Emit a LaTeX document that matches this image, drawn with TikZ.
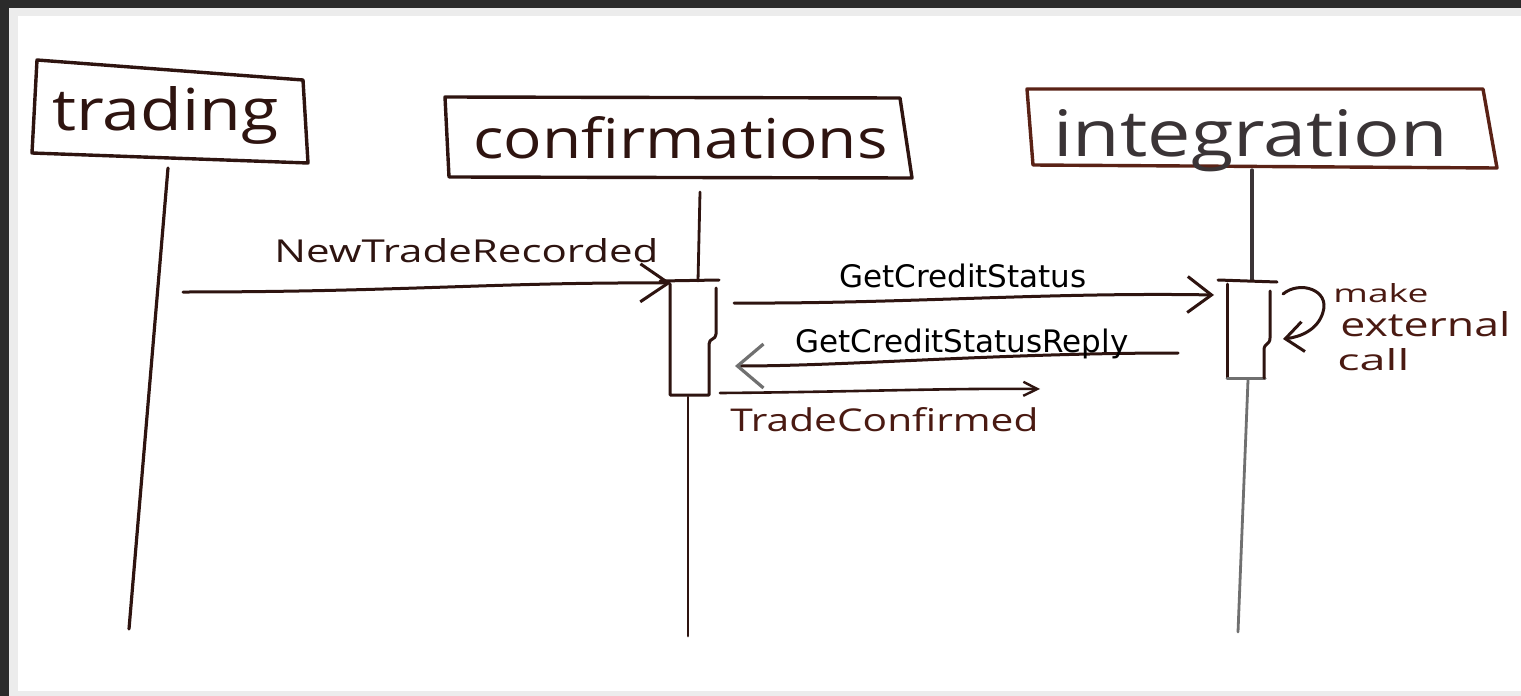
\documentclass[tikz,border=0pt]{standalone}
\usepackage{fontspec}
\usepackage{graphicx}
\usetikzlibrary{arrows.meta}

\newfontfamily\handfont{Open Sans}
\newfontfamily\typefont{DejaVu Sans}

% one drawing unit = half a point
\newdimen\px \px=0.5pt

\definecolor{frameDark}{HTML}{2B2B2B}
\definecolor{frameLight}{HTML}{ECECEC}
\definecolor{ink}{HTML}{2E1410}
\definecolor{redink}{HTML}{4A1A12}
\definecolor{boxred}{HTML}{5A2216}
\definecolor{graphite}{HTML}{3A3436}
\definecolor{pencil}{HTML}{707070}

% hand-lettered text squeezed into a given width and height
\newcommand\handword[3]{\resizebox{#1\px}{#2\px}{\handfont #3}}

\tikzset{
  sketch/.style={draw=ink, line width=1.5pt, line cap=round, line join=round},
  headbox/.style={sketch, line width=1.7pt},
  lifeline/.style={draw=ink, line width=1.4pt, line cap=round},
  handlabel/.style={anchor=base west, inner sep=0pt, text=ink},
  typelabel/.style={anchor=base west, inner sep=0pt, text=black,
    font=\typefont\fontsize{15.5pt}{18pt}\selectfont},
  msg/.style={sketch, -{Straight Barb[length=12pt,width=18pt,line width=1.5pt]}},
}

\begin{document}
\begin{tikzpicture}[x=0.5pt, y=-0.5pt]
% page frame
\fill[frameDark] (0,0) rectangle (1521,696);
\fill[frameLight] (9,8) rectangle (1521,696);
\fill[white] (18,16) rectangle (1521,691);
\useasboundingbox (0,0) rectangle (1521,696);

% ---------- participant headers ----------
\draw[headbox] (37,60) -- (303,80) -- (308,163) -- (32,153) -- cycle;
\node[handlabel] (trading) at (52,130) {\handword{226}{44}{trading}};

\draw[headbox] (445,97) -- (900,98) -- (912,178) -- (449,177) -- cycle;
\node[handlabel] (confirmations) at (473,158) {\handword{414}{42}{confirmations}};

\draw[headbox, draw=boxred] (1027,89) -- (1483,89) -- (1497,168) -- (1033,165) -- cycle;
\node[handlabel, text=graphite] (integration) at (1053,156) {\handword{394}{47}{integration}};

% ---------- lifeline anchor points ----------
\coordinate (trTop) at (168,168);
\coordinate (trEnd) at (129,629);
\coordinate (cfTop) at (700,192);
\coordinate (cfAct) at (698,281);
\coordinate (cfLow) at (688,397);
\coordinate (cfEnd) at (688,636);
\coordinate (inTop) at (1252,170);
\coordinate (inAct) at (1252,280);
\coordinate (inLow) at (1248,380);
\coordinate (inEnd) at (1238,632);

\draw[lifeline, line width=1.6pt] (trTop) -- (trEnd);
\draw[lifeline] (cfTop) -- (cfAct);
\draw[lifeline] (cfLow) -- (cfEnd);
\draw[lifeline, draw=graphite, line width=1.6pt] (inTop) -- (inAct);
\draw[lifeline, draw=pencil] (inLow) -- (inEnd);

% ---------- activation bars ----------
\draw[sketch] (660,281) -- (719,280);
\draw[sketch] (670,284) -- (670,395) -- (709,395) -- (709,344)
  .. controls (709,338) and (716,340) .. (716,334) -- (716,288);

\draw[sketch] (1218,280) -- (1277,282);
\draw[sketch] (1227,284) -- (1227,378);
\draw[sketch, draw=pencil] (1227,378) -- (1265,378);
\draw[sketch] (1264,378) -- (1264,350)
  .. controls (1264,343) and (1270,345) .. (1270,338) -- (1270,291);

% ---------- message end points ----------
\coordinate (newFrom) at (183,292);
\coordinate (newTo) at (671,283);
\coordinate (gcsFrom) at (734,303);
\coordinate (gcsTo) at (1214,295);
\coordinate (rplFrom) at (1178,353);
\coordinate (rplTo) at (735,366);
\coordinate (tcFrom) at (720,393);
\coordinate (tcTo) at (1040,389);
\coordinate (extFrom) at (1283,294);
\coordinate (extTo) at (1283,339);

% ---------- messages ----------
\draw[msg, -{Straight Barb[length=14pt,width=19pt,line width=1.5pt]}]
  (newFrom) .. controls (400,292) and (500,282) .. (newTo);
\node[handlabel] (lblNew) at (274,262) {\handword{384}{24}{NewTradeRecorded}};

\draw[msg] (gcsFrom) .. controls (900,304) and (1050,292) .. (gcsTo);
\node[typelabel] (lblGcs) at (839,287) {GetCreditStatus};

\draw[sketch, -{Straight Barb[length=13pt,width=22pt,line width=1.6pt,color=pencil]}]
  (rplFrom) .. controls (1000,353) and (850,366) .. (rplTo);
\node[typelabel] (lblRpl) at (795,352) {GetCreditStatusReply};

\draw[sketch, line width=1.3pt, -{Straight Barb[length=7pt,width=7pt,line width=1.2pt]}]
  (tcFrom) .. controls (850,392) and (950,388) .. (tcTo);
\node[handlabel, text=redink] (lblTc) at (730,431) {\handword{308}{24}{TradeConfirmed}};

\draw[sketch, -{Straight Barb[length=9pt,width=15pt,line width=1.5pt]}]
  (extFrom) .. controls (1300,280) and (1330,290) .. (1323,312)
  .. controls (1318,330) and (1300,337) .. (extTo);
\node[handlabel, text=redink] (lblMake) at (1333,302) {\handword{95}{19}{make}};
\node[handlabel, text=redink] (lblExternal) at (1340,336) {\handword{170}{25}{external}};
\node[handlabel, text=redink] (lblCall) at (1337,370) {\handword{72}{22}{call}};
\end{tikzpicture}
\end{document}
